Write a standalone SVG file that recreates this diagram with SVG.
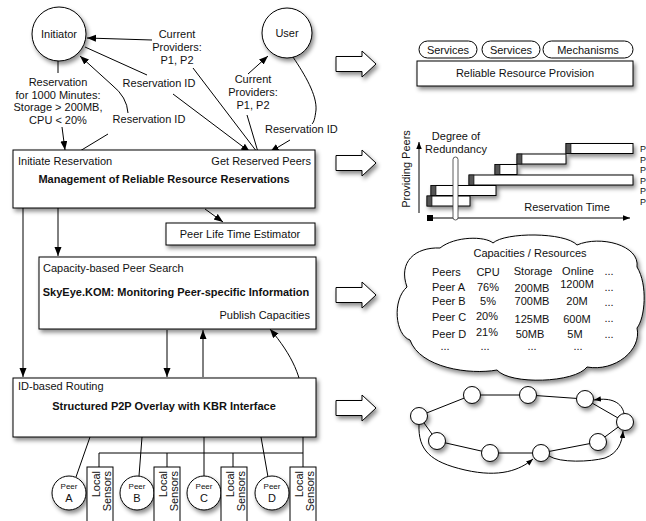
<svg xmlns="http://www.w3.org/2000/svg" width="646" height="521" viewBox="0 0 646 521">
<defs>
<filter id="sh" x="-20%" y="-20%" width="140%" height="160%">
<feDropShadow dx="2" dy="3" stdDeviation="2" flood-color="#000" flood-opacity="0.45"/>
</filter>
<marker id="ah" markerUnits="userSpaceOnUse" markerWidth="10" markerHeight="8" refX="9" refY="3.5" orient="auto">
<path d="M0,0 L9,3.5 L0,7 z" fill="#000"/>
</marker>
<marker id="as" markerUnits="userSpaceOnUse" markerWidth="8" markerHeight="6" refX="7" refY="2.75" orient="auto">
<path d="M0,0 L7,2.75 L0,5.5 z" fill="#000"/>
</marker>
<style>
text{font-family:"Liberation Sans",Arial,sans-serif;font-size:11px;fill:#111}
.b{font-weight:bold}
.m{text-anchor:middle}
.e{text-anchor:end}
.box{fill:#fff;stroke:#000;stroke-width:1}
.ln{fill:none;stroke:#000;stroke-width:1}
.dk{fill:#555;stroke:#000;stroke-width:0.6}
.sm{font-size:8px}
.p{font-size:9px}
</style>
</defs>

<!-- connectors -->
<g id="connectors" class="ln">
<line x1="58" y1="61" x2="58" y2="73"/>
<line x1="62" y1="127" x2="65" y2="150" marker-end="url(#ah)"/>
<line x1="152" y1="40" x2="87" y2="38" marker-end="url(#ah)"/>
<line x1="193" y1="68" x2="257" y2="152"/>
<path d="M85,47 L147,75"/>
<line x1="173" y1="94" x2="250" y2="152" marker-end="url(#ah)"/>
<line x1="75" y1="154" x2="108" y2="134"/>
<path d="M128,113 Q127,97 112,85 L80,56" marker-end="url(#ah)"/>
<line x1="248" y1="74" x2="268" y2="56" marker-end="url(#ah)"/>
<line x1="247" y1="115" x2="258" y2="152"/>
<path d="M293,57 C305,75 317,95 316,110 C315,118 314,122 312,124"/>
<line x1="290" y1="140" x2="270" y2="152" marker-end="url(#ah)"/>
<line x1="205" y1="209" x2="223" y2="222" marker-end="url(#ah)"/>
<line x1="58" y1="208" x2="58" y2="256" marker-end="url(#ah)"/>
<line x1="23" y1="208" x2="23" y2="377" marker-end="url(#ah)"/>
<line x1="167" y1="330" x2="167" y2="377" marker-end="url(#ah)"/>
<line x1="203" y1="377" x2="203" y2="330" marker-end="url(#ah)"/>
<path d="M303,467 L303,405 C303,378 292,355 270,329" marker-end="url(#ah)"/>
<line x1="90" y1="437" x2="76" y2="477"/>
<line x1="142" y1="437" x2="139" y2="476"/>
<line x1="204" y1="437" x2="204" y2="476"/>
<line x1="261" y1="437" x2="268" y2="477"/>
<polyline points="99,467 99,453 303,453"/>
<line x1="167" y1="453" x2="167" y2="467"/>
<line x1="233" y1="453" x2="233" y2="467"/>
</g>

<!-- labels on connectors -->
<g id="labels">
<text class="m" x="58" y="86">Reservation</text>
<text class="m" x="58" y="98.5">for 1000 Minutes:</text>
<text class="m" x="58" y="111">Storage &gt; 200MB,</text>
<text class="m" x="58" y="123.5">CPU &lt; 20%</text>
<text class="m" x="177" y="37.5">Current</text>
<text class="m" x="177" y="51">Providers:</text>
<text class="m" x="177" y="64">P1, P2</text>
<text class="m" x="159" y="87">Reservation ID</text>
<text class="m" x="149" y="123">Reservation ID</text>
<text class="m" x="253" y="83">Current</text>
<text class="m" x="253" y="96">Providers:</text>
<text class="m" x="253" y="109">P1, P2</text>
<text x="265" y="133">Reservation ID</text>
</g>

<g id="initiator">
<circle cx="59" cy="34" r="27" class="box" filter="url(#sh)"/>
<text class="m" x="59" y="38">Initiator</text>
</g>
<g id="user">
<circle cx="287" cy="33" r="25" class="box" filter="url(#sh)"/>
<text class="m" x="287" y="37">User</text>
</g>

<g id="management">
<rect x="13" y="150" width="302" height="58" class="box" filter="url(#sh)"/>
<text x="18" y="165">Initiate Reservation</text>
<text class="e" x="311" y="165">Get Reserved Peers</text>
<text class="m b" x="164" y="183">Management of Reliable Resource Reservations</text>
</g>

<g id="estimator">
<rect x="166" y="223" width="149" height="22" class="box" filter="url(#sh)"/>
<text class="m" x="240" y="238">Peer Life Time Estimator</text>
</g>

<g id="skyeye">
<rect x="39" y="257" width="277" height="72" class="box" filter="url(#sh)"/>
<text x="43" y="272">Capacity-based Peer Search</text>
<text class="m b" x="176" y="296">SkyEye.KOM: Monitoring Peer-specific Information</text>
<text class="e" x="310" y="319">Publish Capacities</text>
</g>

<g id="overlay">
<rect x="13" y="378" width="303" height="59" class="box" filter="url(#sh)"/>
<text x="18" y="390">ID-based Routing</text>
<text class="m b" x="164" y="410">Structured P2P Overlay with KBR Interface</text>
</g>

<g id="peerA">
<circle cx="69" cy="493" r="17" class="box" filter="url(#sh)"/>
<text class="m sm" x="69" y="489">Peer</text>
<text class="m" x="69" y="502">A</text>
</g>
<g id="sensorsA">
<rect x="87" y="467" width="26" height="62" class="box"/>
<text class="e" transform="translate(100,471) rotate(-90)">Local</text>
<text class="e" transform="translate(111,471) rotate(-90)">Sensors</text>
</g>
<g id="peerB">
<circle cx="137" cy="493" r="17" class="box" filter="url(#sh)"/>
<text class="m sm" x="137" y="489">Peer</text>
<text class="m" x="137" y="502">B</text>
</g>
<g id="sensorsB">
<rect x="154" y="467" width="26" height="62" class="box"/>
<text class="e" transform="translate(167,471) rotate(-90)">Local</text>
<text class="e" transform="translate(178,471) rotate(-90)">Sensors</text>
</g>
<g id="peerC">
<circle cx="204" cy="493" r="17" class="box" filter="url(#sh)"/>
<text class="m sm" x="204" y="489">Peer</text>
<text class="m" x="204" y="502">C</text>
</g>
<g id="sensorsC">
<rect x="221" y="467" width="26" height="62" class="box"/>
<text class="e" transform="translate(234,471) rotate(-90)">Local</text>
<text class="e" transform="translate(245,471) rotate(-90)">Sensors</text>
</g>
<g id="peerD">
<circle cx="272" cy="493" r="17" class="box" filter="url(#sh)"/>
<text class="m sm" x="272" y="489">Peer</text>
<text class="m" x="272" y="502">D</text>
</g>
<g id="sensorsD">
<rect x="290" y="467" width="26" height="62" class="box"/>
<text class="e" transform="translate(303,471) rotate(-90)">Local</text>
<text class="e" transform="translate(314,471) rotate(-90)">Sensors</text>
</g>

<!-- big hollow arrows -->
<g id="bigarrows" class="box" filter="url(#sh)">
<polygon points="336,56.5 362,56.5 362,51 376,64 362,77 362,71.5 336,71.5"/>
<polygon points="336,155.5 362,155.5 362,150 376,163 362,176 362,170.5 336,170.5"/>
<polygon points="336,287.5 362,287.5 362,282 376,295 362,308 362,302.5 336,302.5"/>
<polygon points="336,400.5 362,400.5 362,395 376,408 362,421 362,415.5 336,415.5"/>
</g>

<g id="provision">
<rect x="419" y="41" width="58" height="17" rx="8.5" class="box"/>
<text class="m" x="448" y="53.5">Services</text>
<rect x="482" y="41" width="58" height="17" rx="8.5" class="box"/>
<text class="m" x="511" y="53.5">Services</text>
<rect x="543" y="41" width="90" height="17" rx="8.5" class="box"/>
<text class="m" x="588" y="53.5">Mechanisms</text>
<rect x="417" y="61" width="216" height="25" class="box" filter="url(#sh)"/>
<text class="m" x="525" y="77">Reliable Resource Provision</text>
</g>

<g id="chart">
<line x1="419" y1="213" x2="419" y2="142" class="ln" marker-end="url(#as)"/>
<line x1="430" y1="218" x2="630" y2="218" class="ln" marker-end="url(#as)"/>
<rect x="427" y="215" width="6" height="6" fill="#000"/>
<text class="m" transform="translate(409.5,169) rotate(-90)">Providing Peers</text>
<text class="m" x="567" y="210.5">Reservation Time</text>
<text class="m" x="456" y="140">Degree of</text>
<text class="m" x="456" y="152.5">Redundancy</text>
<g filter="url(#sh)">
<rect x="427" y="196" width="43" height="10" class="box"/>
<rect x="431" y="185.5" width="65" height="10" class="box"/>
<rect x="469" y="175" width="164" height="10" class="box"/>
<rect x="495" y="164.5" width="22" height="10" class="box"/>
<rect x="517" y="154" width="49" height="10" class="box"/>
<rect x="566" y="143.5" width="67" height="10" class="box"/>
</g>
<rect x="427" y="196" width="5" height="10" class="dk"/>
<rect x="431" y="185.5" width="5" height="10" class="dk"/>
<rect x="469" y="175" width="5" height="10" class="dk"/>
<rect x="495" y="164.5" width="5" height="10" class="dk"/>
<rect x="517" y="154" width="5" height="10" class="dk"/>
<rect x="566" y="143.5" width="5" height="10" class="dk"/>
<rect x="453" y="157" width="5" height="63" rx="2.5" fill="#fff" stroke="#333" stroke-width="0.8"/>
<text class="p" x="640" y="152">P</text>
<text class="p" x="640" y="162.5">P</text>
<text class="p" x="640" y="173">P</text>
<text class="p" x="640" y="183.5">P</text>
<text class="p" x="640" y="194">P</text>
<text class="p" x="640" y="204.5">P</text>
</g>

<g id="cloud">
<path class="box" filter="url(#sh)" d="M407,287 C398,262 415,247 440,248 C455,236 485,236 493,243 C505,232 565,232 577,245 C600,235 640,245 637,267 C648,285 645,318 637,328 C642,350 615,372 587,367 C575,383 510,385 497,370 C470,375 420,368 410,340 C395,335 392,300 407,287 Z"/>
<text class="m" x="530" y="257">Capacities / Resources</text>
<text x="432" y="275.5">Peers</text>
<text class="m" x="488" y="275.5">CPU</text>
<text class="m" x="533" y="275">Storage</text>
<text class="m" x="578" y="275">Online</text>
<text class="m" x="609" y="275">...</text>
<text x="432" y="290.5">Peer A</text>
<text class="m" x="488" y="290.5">76%</text>
<text class="m" x="532" y="291.5">200MB</text>
<text class="m" x="577" y="288">1200M</text>
<text class="m" x="609" y="291">...</text>
<text x="432" y="304.5">Peer B</text>
<text class="m" x="488" y="304.5">5%</text>
<text class="m" x="532" y="305">700MB</text>
<text class="m" x="577" y="305">20M</text>
<text class="m" x="609" y="305.5">...</text>
<text x="432" y="321">Peer C</text>
<text class="m" x="487" y="320">20%</text>
<text class="m" x="532" y="323">125MB</text>
<text class="m" x="577" y="322.5">600M</text>
<text class="m" x="609" y="322">...</text>
<text x="432" y="338">Peer D</text>
<text class="m" x="487" y="335.5">21%</text>
<text class="m" x="530" y="338">50MB</text>
<text class="m" x="575" y="338">5M</text>
<text class="m" x="609" y="338">...</text>
<text class="m" x="445" y="350">...</text>
<text class="m" x="485" y="350">...</text>
<text class="m" x="532" y="350">...</text>
<text class="m" x="578" y="350">...</text>
</g>

<g id="ring">
<g class="ln">
<polyline points="419,416 472,395 528,395 585,399 625,422 598,442 541,453 490,453 437,441 419,416"/>
<path d="M419,424.5 C418,450 430,462 465,470 C500,478 520,470 533,459" marker-end="url(#as)"/>
<path d="M549,456 C560,463 590,462 605,458 C618,453 622,443 623,431" marker-end="url(#as)"/>
<path d="M624,413.5 C622,403 612,397 594,400" marker-end="url(#as)"/>
</g>
<g class="box" filter="url(#sh)">
<circle cx="419" cy="416" r="8.5"/>
<circle cx="472" cy="395" r="8.5"/>
<circle cx="528" cy="395" r="8.5"/>
<circle cx="585" cy="399" r="8.5"/>
<circle cx="625" cy="422" r="8.5"/>
<circle cx="598" cy="442" r="8.5"/>
<circle cx="541" cy="453" r="8.5"/>
<circle cx="490" cy="453" r="8.5"/>
<circle cx="437" cy="441" r="8.5"/>
</g>
</g>
</svg>
